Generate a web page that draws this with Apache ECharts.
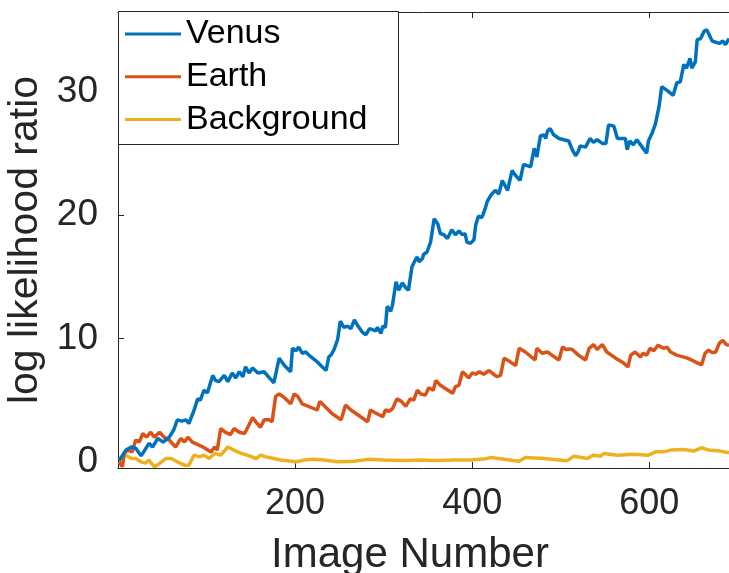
<!DOCTYPE html>
<html>
<head>
<meta charset="utf-8">
<script src="https://cdn.jsdelivr.net/npm/echarts@6/dist/echarts.min.js"></script>
<style>html,body{margin:0;padding:0;background:#fff;}#c{width:729px;height:573px;}</style>
</head>
<body>
<div id="c"></div>
<script>
const seriesNames = ['Venus', 'Earth', 'Background'];
const xTicks = [200, 400, 600];
const yTicks = [0, 10, 20, 30];

const venusX = [1,3,9,15,20,26,29,35,39,45,51,58,63,67,72,77,80,86,90,93,97,101,107,110,114,120,124,129,133,137,141,144,148,152,158,165,171,176,178,182,188,195,197,201,204,208,212,218,220,225,229,235,238,241,244,248,251,255,259,263,267,271,276,280,284,288,291,293,297,299,302,304,308,310,314,317,321,325,328,332,336,338,340,344,345,349,351,353,357,361,364,368,372,377,381,385,389,392,394,398,402,404,407,411,415,417,421,423,426,430,434,440,445,449,454,458,462,466,470,473,477,481,483,485,488,492,498,509,513,517,520,522,528,530,533,537,541,547,551,554,560,564,569,573,575,578,582,586,592,597,599,603,607,611,614,620,627,631,635,639,642,646,648,652,654,658,662,665,671,679,683,686,690];
const venusY = [0.1,0.3,0.95,1.2,1.1,0.5,0.8,1.5,1.2,1.9,1.6,2.0,2.6,3.4,3.3,3.4,3.1,4.2,5.1,5.0,5.8,5.6,7.0,6.6,6.5,7.0,6.5,7.2,6.8,7.3,6.9,7.7,7.2,7.6,7.2,7.3,6.8,6.4,6.4,8.4,7.8,7.3,9.2,9.0,9.3,8.8,8.9,8.5,8.6,8.1,7.8,7.4,8.5,8.7,9.1,9.9,11.4,10.9,11.0,10.8,11.5,11.0,10.5,10.3,10.8,10.7,10.6,10.9,10.4,11.0,10.9,12.6,12.2,12.7,14.6,13.9,14.5,14.1,13.9,15.8,16.4,16.6,16.2,16.5,16.8,17.0,17.0,17.8,19.7,19.3,18.5,18.4,18.1,18.8,18.4,18.7,18.4,18.5,17.8,17.7,18.0,19.2,19.9,19.8,20.6,21.1,21.6,21.5,22.0,21.7,22.8,22.0,23.6,23.2,22.8,24.1,24.0,23.9,25.4,24.7,26.4,26.5,26.2,26.8,27.0,26.5,26.2,26.0,25.3,24.8,25.2,25.6,25.5,25.5,26.2,25.9,26.1,25.8,25.8,27.3,27.2,26.2,26.2,26.2,25.3,26.0,25.7,26.1,25.5,25.0,26.0,26.6,27.4,28.8,30.4,30.1,29.7,30.7,30.8,32.2,31.9,32.7,31.9,32.4,34.2,34.3,34.9,35.0,34.1,33.9,34.1,33.8,34.3];

const earthX = [1,5,7,11,16,20,24,28,32,37,41,47,52,58,65,71,75,79,84,96,105,109,112,116,121,127,131,137,143,148,152,156,161,165,171,174,178,182,188,195,199,203,208,225,228,232,242,252,257,263,274,282,285,290,299,302,306,310,315,320,325,330,334,338,342,347,351,356,359,364,378,381,385,389,392,396,400,404,408,413,419,424,428,432,436,443,449,453,460,471,473,479,485,490,498,502,506,510,513,520,528,532,537,541,547,552,562,571,576,579,584,590,593,597,601,605,610,616,620,624,631,643,652,659,663,667,671,675,677,679,683,687,690];
const earthY = [0.0,-0.4,0.7,0.95,0.8,1.76,1.6,2.3,2.0,2.4,2.0,2.4,2.0,1.76,1.2,1.9,1.6,2.0,1.6,1.2,0.8,1.2,0.95,2.7,2.4,2.2,2.7,2.4,2.3,3.0,3.6,3.2,2.8,3.4,3.4,3.25,5.3,5.5,5.2,4.7,5.5,5.3,4.7,4.2,4.9,4.6,3.9,3.4,4.6,4.2,3.65,3.25,4.2,4.0,3.65,4.2,4.1,4.3,5.1,4.9,4.5,5.1,5.0,5.8,5.5,5.4,6.0,5.8,6.6,6.2,5.55,6.1,6.2,7.3,7.1,6.8,7.2,7.1,7.3,7.1,7.4,7.1,6.9,7.0,8.4,8.1,7.8,9.2,8.9,8.25,9.2,8.8,8.9,8.65,8.25,9.3,9.1,9.15,9.1,8.65,8.25,9.2,9.5,9.1,9.5,8.9,8.4,8.0,7.7,8.65,8.9,8.5,8.8,8.65,9.2,9.0,9.45,9.2,9.3,8.9,8.65,8.4,8.1,7.85,8.8,9.05,8.85,8.9,8.8,9.6,9.85,9.5,9.45];

const bgX = [1,9,15,20,26,31,35,41,47,54,60,67,75,80,86,92,97,103,109,116,124,131,139,146,156,161,167,176,184,201,210,221,232,248,267,282,300,323,342,360,379,398,413,421,432,453,460,481,507,515,530,537,545,549,564,582,599,607,616,624,639,650,659,667,680,690];
const bgY = [0.14,0.54,0.27,0.27,0.0,-0.1,0.14,-0.4,-0.13,0.27,0.27,0.0,-0.27,-0.27,0.54,0.4,0.54,0.27,0.68,0.54,1.2,0.95,0.68,0.54,0.27,0.54,0.4,0.27,0.14,0.0,0.14,0.2,0.14,0.0,0.05,0.2,0.14,0.1,0.14,0.1,0.14,0.14,0.22,0.35,0.25,0.05,0.35,0.27,0.08,0.46,0.27,0.54,0.46,0.68,0.54,0.62,0.54,0.81,0.81,0.95,1.0,0.87,1.14,0.95,0.87,0.73];

const colors = ['#0072BD', '#D95319', '#EDB120'];
const zip = (xs, ys) => xs.map((x, i) => [x, ys[i]]);
const allData = [zip(venusX, venusY), zip(earthX, earthY), zip(bgX, bgY)];

const FONT = 'Liberation Sans';
const AX = '#262626';
const chart = echarts.init(document.getElementById('c'), null, {renderer: 'canvas'});
chart.setOption({
  animation: false,
  backgroundColor: '#fff',
  textStyle: {fontFamily: FONT},
  grid: {left: 118, right: 0, top: 12, bottom: 105, containLabel: false, outerBoundsMode: 'none'},
  graphic: [{
    type: 'rect', left: 118, top: 11, z: 5,
    shape: {width: 280, height: 133},
    style: {fill: '#fff', stroke: AX, lineWidth: 1}
  }],
  legend: {
    orient: 'vertical', left: 125, top: 16, z: 10, padding: 0,
    itemWidth: 56, itemHeight: 3, itemGap: 6.7, icon: 'rect',
    textStyle: {fontFamily: FONT, fontSize: 34, color: '#000', lineHeight: 36},
    data: seriesNames
  },
  xAxis: [{
    type: 'value', min: 0, max: 690,
    name: 'Image Number', nameLocation: 'middle', nameGap: 66,
    nameTextStyle: {fontFamily: FONT, fontSize: 42, color: AX, padding: [0, 27, 0, 0]},
    axisLine: {show: true, onZero: false, lineStyle: {color: AX, width: 1}},
    axisTick: {show: true, inside: true, length: 6, customValues: xTicks, lineStyle: {color: AX}},
    axisLabel: {customValues: xTicks, fontFamily: FONT, fontSize: 36, color: AX, margin: 18},
    splitLine: {show: false}
  }, {
    type: 'value', position: 'top', min: 0, max: 690,
    axisLine: {show: true, onZero: false, lineStyle: {color: AX, width: 1}},
    axisTick: {show: true, inside: true, length: 6, customValues: xTicks, lineStyle: {color: AX}},
    axisLabel: {show: false},
    splitLine: {show: false}
  }],
  yAxis: [{
    type: 'value', min: -0.5, max: 36.45,
    name: 'log likelihood ratio', nameLocation: 'middle', nameGap: 72,
    nameTextStyle: {fontFamily: FONT, fontSize: 41, color: AX},
    axisLine: {show: true, onZero: false, lineStyle: {color: AX, width: 1}},
    axisTick: {show: true, inside: true, length: 6, customValues: yTicks, lineStyle: {color: AX}},
    axisLabel: {customValues: yTicks, fontFamily: FONT, fontSize: 37, color: AX, margin: 20},
    splitLine: {show: false}
  }],
  series: seriesNames.map((n, i) => ({
    name: n, type: 'line', data: allData[i], xAxisIndex: 0,
    showSymbol: false, symbol: 'none',
    lineStyle: {color: colors[i], width: 3.5},
    itemStyle: {color: colors[i]},
    z: 3 - i
  }))
});
</script>
</body>
</html>
